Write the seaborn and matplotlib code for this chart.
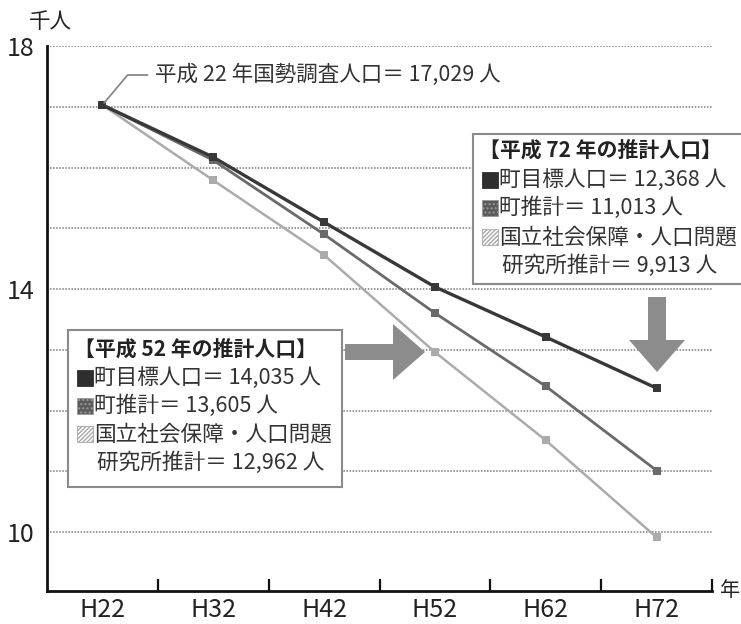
import matplotlib
matplotlib.use("Agg")
import matplotlib.pyplot as plt
import matplotlib.patches as mpatches
from matplotlib.transforms import Affine2D
import pandas as pd
import seaborn as sns

# 年次（平成）
years = ["H22", "H32", "H42", "H52", "H62", "H72"]
# 人口（千人）
target = [17.029, 16.17, 15.10, 14.035, 13.21, 12.368]      # 町目標人口
town_est = [17.029, 16.12, 14.90, 13.605, 12.40, 11.013]    # 町推計
ipss_est = [17.029, 15.79, 14.56, 12.962, 11.51, 9.913]     # 国立社会保障・人口問題研究所推計
series_names = ["町目標人口", "町推計", "社人研推計"]
y_labels = [10, 14, 18]

sns.set_theme(style="white")
plt.rcParams["font.family"] = ["Noto Sans CJK JP", "DejaVu Sans"]

df = pd.DataFrame({
    "pos": list(range(len(years))) * 3,
    "value": target + town_est + ipss_est,
    "series": [s for s in series_names for _ in years],
})

W, H = 741, 624
fig = plt.figure(figsize=(W / 100, H / 100), dpi=100)
fig.patch.set_facecolor("white")
ax = fig.add_axes([47 / W, 1 - 591 / H, (712 - 47) / W, (591 - 46) / H])

palette = {"町目標人口": "#383838", "町推計": "#6a6a6a", "社人研推計": "#ababab"}
sizes = {"町目標人口": 2.4, "町推計": 2.0, "社人研推計": 1.8}
markers = {s: "s" for s in series_names}

sns.lineplot(data=df, x="pos", y="value", hue="series", style="series", size="series",
             hue_order=series_names[::-1], style_order=series_names[::-1],
             size_order=series_names[::-1],
             palette=palette, sizes=sizes, markers=markers, dashes=False,
             markersize=6, markeredgewidth=0, legend=False, ax=ax, zorder=3)

ax.set_xlim(-0.5, len(years) - 0.5)
ax.set_ylim(9.03, 18.0)
ax.set_xlabel("")
ax.set_ylabel("")

ax.set_xticks(range(len(years)))
ax.set_xticklabels(years, fontsize=18)
ax.set_xticks([i + 0.5 for i in range(len(years))], minor=True)
ax.tick_params(axis="x", which="major", length=0, pad=4, colors="#222")
ax.tick_params(axis="x", which="minor", direction="in", length=9, width=1.6,
               color="#111", bottom=True)

yt = list(range(10, 19))
ax.set_yticks(yt)
ax.set_yticklabels([str(v) if v in y_labels else "" for v in yt], fontsize=18)
ax.tick_params(axis="y", length=0, pad=9, colors="#222")
ax.grid(axis="y", color="#7a7a7a", linestyle=(0, (1, 1)), linewidth=1.1)
ax.grid(axis="x", visible=False)

for side in ("top", "right"):
    ax.spines[side].set_visible(False)
for side in ("left", "bottom"):
    ax.spines[side].set_color("#111")
    ax.spines[side].set_linewidth(2)

# pixel coordinates measured from the top-left corner of the figure
px = Affine2D().scale(1, -1).translate(0, H).scale(0.01) + fig.dpi_scale_trans

fig.text(50, 22, "千人", transform=px, fontsize=15.5, ha="center", va="center", color="#222")
fig.text(720, 590, "年", transform=px, fontsize=14.5, ha="left", va="center", color="#222")

ax.annotate(f"平成 22 年国勢調査人口＝ {target[0] * 1000:,.0f} 人",
            xy=(0, target[0]), xycoords="data",
            xytext=(155, 75), textcoords=px, fontsize=15.5, color="#333",
            ha="left", va="center",
            arrowprops=dict(arrowstyle="-", color="#888", lw=1.3,
                            connectionstyle="angle,angleA=0,angleB=50,rad=0",
                            shrinkA=3, shrinkB=2))

# summary boxes
box_kw = dict(transform=px, facecolor="white", edgecolor="#8a8a8a", lw=1.5, zorder=4)
fig.add_artist(mpatches.Rectangle((473, 134), 290, 150, **box_kw))
fig.add_artist(mpatches.Rectangle((68, 330), 274, 157, **box_kw))

sq_styles = [
    dict(facecolor="#2e2e2e", edgecolor="#2e2e2e", hatch=None),
    dict(facecolor="#5a5a5a", edgecolor="#9a9a9a", hatch="...."),
    dict(facecolor="white", edgecolor="#a8a8a8", hatch="////////"),
]


def summary(x0, ys, year, vals):
    fig.text(x0 - 3, ys[0], f"【平成 {year} 年の推計人口】", transform=px, fontsize=15,
             fontweight="bold", ha="left", va="center", color="#222", zorder=5)
    lines = [f"町目標人口＝ {vals[0] * 1000:,.0f} 人",
             f"町推計＝ {vals[1] * 1000:,.0f} 人",
             "国立社会保障・人口問題"]
    for i, (txt, st) in enumerate(zip(lines, sq_styles)):
        y = ys[i + 1]
        fig.add_artist(mpatches.Rectangle((x0, y - 8), 16, 16, transform=px, lw=0.6,
                                          zorder=5, **st))
        fig.text(x0 + 17, y, txt, transform=px, fontsize=15.6, ha="left", va="center",
                 color="#333", zorder=5)
    fig.text(x0 + 20, ys[4], f"研究所推計＝ {vals[2] * 1000:,.0f} 人", transform=px,
             fontsize=15.6, ha="left", va="center", color="#333", zorder=5)


summary(482, [150, 180, 208, 237, 266], 72, [target[5], town_est[5], ipss_est[5]])
summary(77, [349, 378, 406, 434, 463], 52, [target[3], town_est[3], ipss_est[3]])

# pointer arrows
arrow_kw = dict(transform=px, color="#8c8c8c", lw=0, length_includes_head=True, zorder=4)
fig.add_artist(mpatches.FancyArrow(345, 352, 80, 0, width=16, head_width=56,
                                   head_length=32, **arrow_kw))
fig.add_artist(mpatches.FancyArrow(657, 297, 0, 75, width=18, head_width=56,
                                   head_length=32, **arrow_kw))

fig.savefig("out.png", dpi=100, facecolor="white")
